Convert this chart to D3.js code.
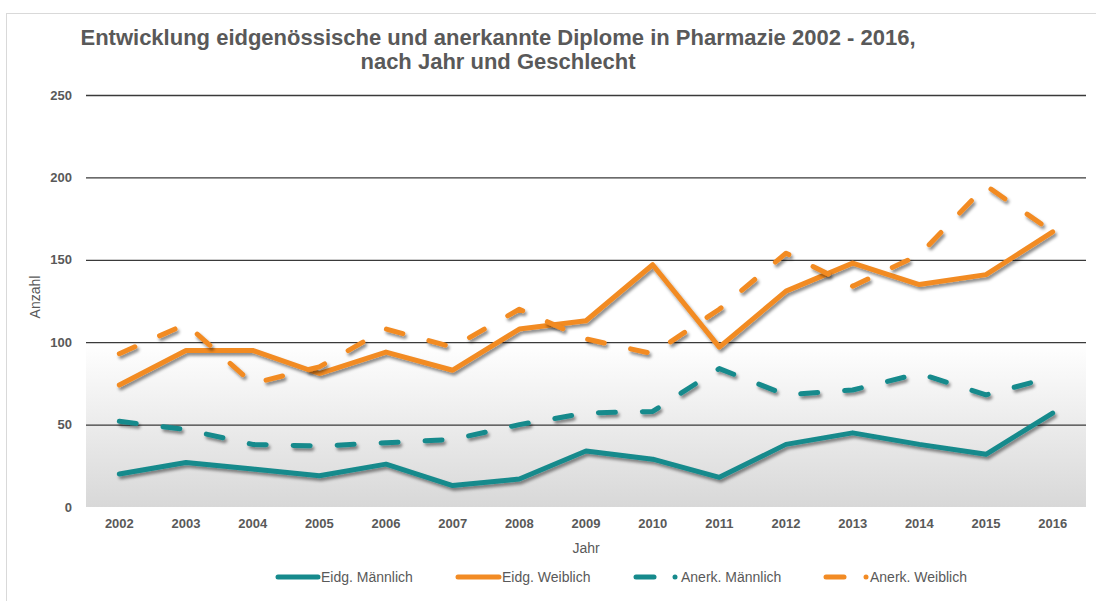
<!DOCTYPE html>
<html>
<head>
<meta charset="utf-8">
<script src="https://cdn.jsdelivr.net/npm/d3@7"></script>
<style>
  body { margin: 0; background: #fff; }
  svg { display: block; font-family: "Liberation Sans", Arial, sans-serif; }
</style>
</head>
<body>
<svg id="chart" width="1096" height="601"></svg>
<script>
// Werte
const years = ["2002","2003","2004","2005","2006","2007","2008","2009","2010","2011","2012","2013","2014","2015","2016"];
const eidgMaennlich = [20, 27, 23, 19, 26, 13, 17, 34, 29, 18, 38, 45, 38, 32, 57];
const eidgWeiblich  = [74, 95, 95, 81, 94, 83, 108, 113, 147, 97, 131, 148, 135, 141, 167];
const anerkMaennlich = [52, 47, 38, 37, 39, 41, 50, 57, 58, 84, 68, 71, 81, 68, 79];
const anerkWeiblich  = [93, 111, 75, 85, 108, 97, 120, 102, 93, 120, 154, 134, 153, 195, 167];
const yTicks = [0, 50, 100, 150, 200, 250];

const teal = "#168a8c";
const orange = "#f28b24";
const textGray = "#595959";

const series = [
  { name: "Eidg. Männlich", values: eidgMaennlich, color: teal, dashed: false },
  { name: "Eidg. Weiblich", values: eidgWeiblich, color: orange, dashed: false },
  { name: "Anerk. Männlich", values: anerkMaennlich, color: teal, dashed: true },
  { name: "Anerk. Weiblich", values: anerkWeiblich, color: orange, dashed: true }
];

const svg = d3.select("#chart");
const margin = { left: 86, right: 1086, top: 95, bottom: 507 };

const x = d3.scaleBand().domain(years).range([margin.left, margin.right]);
const y = d3.scaleLinear().domain([0, 250]).range([margin.bottom, margin.top]);

const defs = svg.append("defs");
const grad = defs.append("linearGradient")
  .attr("id", "bg").attr("x1", 0).attr("y1", 0).attr("x2", 0).attr("y2", 1);
grad.append("stop").attr("offset", "0%").attr("stop-color", "#ffffff");
grad.append("stop").attr("offset", "100%").attr("stop-color", "#d8d8d8");

const shadow = defs.append("filter").attr("id", "shadow")
  .attr("x", "-5%").attr("y", "-20%").attr("width", "110%").attr("height", "140%");
shadow.append("feDropShadow")
  .attr("dx", 1.8).attr("dy", 2.8).attr("stdDeviation", 1.6)
  .attr("flood-color", "#000").attr("flood-opacity", 0.45);

// Rahmen des Diagramms
svg.append("rect")
  .attr("x", 6.5).attr("y", 13.5)
  .attr("width", 1200).attr("height", 700)
  .attr("fill", "none").attr("stroke", "#d9d9d9");

// grauer Verlauf unter 100
svg.append("rect")
  .attr("x", margin.left).attr("y", y(100))
  .attr("width", margin.right - margin.left).attr("height", y(0) - y(100))
  .attr("fill", "url(#bg)");

// Titel
const title = svg.append("text")
  .attr("x", 498).attr("text-anchor", "middle")
  .attr("font-size", 22).attr("font-weight", "bold").attr("fill", textGray);
title.append("tspan").attr("x", 498).attr("y", 45)
  .text("Entwicklung eidgenössische und anerkannte Diplome in Pharmazie 2002 - 2016,");
title.append("tspan").attr("x", 498).attr("y", 69)
  .text("nach Jahr und Geschlecht");

// Y-Achse mit Gitterlinien
const yAxis = svg.append("g")
  .attr("transform", `translate(${margin.left},0)`)
  .call(d3.axisLeft(y).tickValues(yTicks).tickSize(-(margin.right - margin.left)).tickPadding(14));
yAxis.select(".domain").remove();
yAxis.selectAll(".tick line")
  .attr("stroke", "#3a3a3a").attr("stroke-width", 1.3)
  .filter(d => d === 0).remove();
yAxis.selectAll(".tick text")
  .attr("font-size", 13).attr("font-weight", "bold").attr("fill", textGray)
  .attr("font-family", "Liberation Sans, Arial, sans-serif");

// X-Achse
const xAxis = svg.append("g")
  .attr("transform", `translate(0,${margin.bottom})`)
  .call(d3.axisBottom(x).tickSize(0).tickPadding(12));
xAxis.select(".domain").remove();
xAxis.selectAll(".tick text")
  .attr("font-size", 13).attr("font-weight", "bold").attr("fill", textGray)
  .attr("font-family", "Liberation Sans, Arial, sans-serif");

// Achsentitel
svg.append("text")
  .attr("x", (margin.left + margin.right) / 2).attr("y", 553)
  .attr("text-anchor", "middle").attr("font-size", 14).attr("fill", textGray)
  .text("Jahr");
svg.append("text")
  .attr("transform", `translate(40,297) rotate(-90)`)
  .attr("text-anchor", "middle").attr("font-size", 14).attr("fill", textGray)
  .text("Anzahl");

// Linien
const line = d3.line()
  .x((d, i) => x(years[i]) + x.bandwidth() / 2)
  .y(d => y(d));

svg.append("g")
  .selectAll("path")
  .data(series)
  .join("path")
  .attr("d", d => line(d.values))
  .attr("fill", "none")
  .attr("stroke", d => d.color)
  .attr("stroke-width", 5)
  .attr("stroke-linecap", "round")
  .attr("stroke-linejoin", "round")
  .attr("stroke-dasharray", d => d.dashed ? "17 27" : null)
  .attr("filter", "url(#shadow)");

// Legende
const legendItems = [
  { s: series[0], x0: 278, x1: 318, tx: 321 },
  { s: series[1], x0: 458, x1: 499, tx: 502 },
  { s: series[2], x0: 636, x1: 654, dot: 675, tx: 681 },
  { s: series[3], x0: 826, x1: 844, dot: 866, tx: 870 }
];
const legendY = 577;
const legend = svg.append("g");
legendItems.forEach(item => {
  legend.append("line")
    .attr("x1", item.x0).attr("x2", item.x1)
    .attr("y1", legendY).attr("y2", legendY)
    .attr("stroke", item.s.color).attr("stroke-width", 5)
    .attr("stroke-linecap", "round");
  if (item.dot) {
    legend.append("circle")
      .attr("cx", item.dot).attr("cy", legendY).attr("r", 2.5)
      .attr("fill", item.s.color);
  }
  legend.append("text")
    .attr("x", item.tx).attr("y", legendY + 5)
    .attr("font-size", 14).attr("fill", textGray)
    .text(item.s.name);
});
</script>
</body>
</html>
